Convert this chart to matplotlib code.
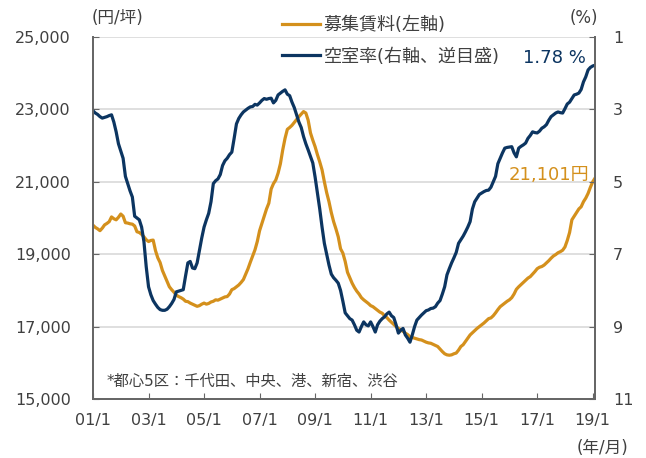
import matplotlib
matplotlib.use("Agg")
import matplotlib.pyplot as plt
import numpy as np

plt.rcParams["font.family"] = ["DejaVu Sans", "Noto Sans CJK JP"]

# 月次データ 2001/01 - 2019/02
rent = [
    19800, 19740, 19700, 19650, 19720, 19810, 19850, 19900, 20030, 19980, 19950, 20020,  # 2001
    20110, 20050, 19870, 19860, 19840, 19830, 19780, 19620, 19600, 19550, 19480, 19400,  # 2002
    19350, 19380, 19390, 19100, 18900, 18770, 18550, 18400, 18250, 18100, 18020, 17950,  # 2003
    17870, 17830, 17800, 17760, 17700, 17690, 17650, 17620, 17590, 17560, 17580, 17620,  # 2004
    17650, 17620, 17640, 17680, 17700, 17740, 17730, 17760, 17790, 17820, 17830, 17900,  # 2005
    18020, 18050, 18100, 18150, 18220, 18300, 18450, 18600, 18780, 18950, 19120, 19350,  # 2006
    19650, 19850, 20050, 20250, 20410, 20800, 20950, 21050, 21240, 21500, 21880, 22200,  # 2007
    22450, 22500, 22560, 22640, 22720, 22800, 22870, 22940, 22900, 22700, 22350, 22150,  # 2008
    21970, 21750, 21550, 21330, 21000, 20700, 20450, 20150, 19900, 19700, 19480, 19150,  # 2009
    19030, 18800, 18500, 18350, 18200, 18080, 17980, 17900, 17800, 17740, 17690, 17640,  # 2010
    17580, 17550, 17500, 17450, 17400, 17370, 17300, 17250, 17180, 17120, 17060, 17000,  # 2011
    16950, 16910, 16870, 16820, 16780, 16720, 16700, 16680, 16660, 16640, 16630, 16600,  # 2012
    16570, 16550, 16540, 16510, 16480, 16450, 16380, 16310, 16250, 16220, 16210, 16220,  # 2013
    16250, 16270, 16350, 16450, 16500, 16590, 16680, 16770, 16830, 16890, 16950, 17000,  # 2014
    17050, 17100, 17160, 17220, 17240, 17300, 17380, 17470, 17550, 17600, 17650, 17700,  # 2015
    17740, 17800, 17900, 18030, 18100, 18160, 18220, 18280, 18340, 18380, 18450, 18520,  # 2016
    18600, 18640, 18660, 18700, 18760, 18820, 18890, 18950, 18990, 19040, 19070, 19110,  # 2017
    19200, 19380, 19600, 19950, 20050, 20150, 20250, 20310, 20450, 20550, 20680, 20850,  # 2018
    21000, 21101,  # 2019
]

vacancy = [
    3.04, 3.10, 3.14, 3.20, 3.24, 3.22, 3.20, 3.17, 3.15, 3.35, 3.62, 3.95,  # 2001
    4.15, 4.35, 4.85, 5.05, 5.25, 5.42, 5.95, 6.00, 6.05, 6.25, 6.65, 7.35,  # 2002
    7.90, 8.12, 8.28, 8.38, 8.47, 8.53, 8.55, 8.55, 8.52, 8.45, 8.36, 8.25,  # 2003
    8.04, 8.02, 8.00, 7.98, 7.60, 7.24, 7.20, 7.38, 7.40, 7.24, 6.90, 6.55,  # 2004
    6.25, 6.05, 5.87, 5.55, 5.05, 4.97, 4.92, 4.80, 4.55, 4.42, 4.35, 4.25,  # 2005
    4.18, 3.80, 3.40, 3.25, 3.15, 3.07, 3.02, 2.97, 2.93, 2.92, 2.86, 2.88,  # 2006
    2.82, 2.75, 2.70, 2.72, 2.70, 2.69, 2.82, 2.75, 2.60, 2.55, 2.50, 2.46,  # 2007
    2.58, 2.62, 2.80, 2.95, 3.15, 3.35, 3.50, 3.75, 3.95, 4.12, 4.30, 4.48,  # 2008
    4.87, 5.30, 5.75, 6.25, 6.70, 7.00, 7.30, 7.55, 7.65, 7.72, 7.80, 8.00,  # 2009
    8.30, 8.62, 8.70, 8.78, 8.82, 8.95, 9.10, 9.15, 9.00, 8.87, 8.95, 8.98,  # 2010
    8.87, 9.00, 9.15, 8.95, 8.85, 8.78, 8.73, 8.65, 8.60, 8.70, 8.75, 8.95,  # 2011
    9.18, 9.10, 9.05, 9.23, 9.32, 9.43, 9.23, 9.00, 8.82, 8.75, 8.68, 8.62,  # 2012
    8.56, 8.54, 8.50, 8.49, 8.45, 8.35, 8.28, 8.10, 7.90, 7.57, 7.40, 7.24,  # 2013
    7.10, 6.95, 6.70, 6.60, 6.50, 6.38, 6.25, 6.10, 5.75, 5.55, 5.45, 5.35,  # 2014
    5.31, 5.27, 5.24, 5.23, 5.15, 5.00, 4.85, 4.50, 4.35, 4.20, 4.07, 4.05,  # 2015
    4.04, 4.03, 4.20, 4.31, 4.07, 4.02, 3.98, 3.93, 3.80, 3.72, 3.62, 3.64,  # 2016
    3.65, 3.60, 3.52, 3.48, 3.42, 3.30, 3.20, 3.15, 3.10, 3.07, 3.09, 3.10,  # 2017
    2.98, 2.85, 2.80, 2.70, 2.60, 2.58, 2.55, 2.45, 2.24, 2.10, 1.91, 1.84,  # 2018
    1.80, 1.78,  # 2019
]

xtick_labels = ["01/1", "03/1", "05/1", "07/1", "09/1", "11/1", "13/1", "15/1", "17/1", "19/1"]
left_ticks = [15000, 17000, 19000, 21000, 23000, 25000]
right_ticks = [1, 3, 5, 7, 9, 11]

gold = "#D4901C"
navy = "#0C3561"
gray = "#404040"
spine_c = "#666666"

months = np.arange(len(rent))

fig = plt.figure(figsize=(6.46, 4.58), dpi=100)
ax = fig.add_axes([0.1440, 0.1288, 0.7771, 0.7904])
ax2 = ax.twinx()

l1, = ax.plot(months, rent, color=gold, lw=2.3, solid_joinstyle="round")
l2, = ax2.plot(months, vacancy, color=navy, lw=2.3, solid_joinstyle="round")

ax.set_xlim(0, len(rent) - 1)
ax.set_ylim(15000, 25000)
ax2.set_ylim(11, 1)

ax.set_xticks(np.arange(0, 217, 24))
ax.set_xticklabels(xtick_labels)
ax.set_yticks(left_ticks)
ax.set_yticklabels([f"{v:,}" for v in left_ticks])
ax2.set_yticks(right_ticks)

ax.grid(axis="y", color="#d9d9d9", lw=1.2)
ax.set_axisbelow(True)

for a in (ax, ax2):
    a.spines["top"].set_visible(False)
    for s in ("left", "right", "bottom"):
        a.spines[s].set_color(spine_c)
        a.spines[s].set_linewidth(1.3)
ax.tick_params(axis="y", direction="in", length=4, color=spine_c, labelsize=11.5,
               labelcolor=gray, pad=16)
ax.tick_params(axis="x", direction="in", length=4, color=spine_c, labelsize=11.5,
               labelcolor=gray, pad=10)
ax2.tick_params(axis="y", direction="in", length=4, color=spine_c, labelsize=11.5,
                labelcolor=gray, pad=13)

fig.text(92 / 646, 1 - 18 / 458, "(円/坪)", fontsize=12, color=gray, va="center", ha="left")
fig.text(584 / 646, 1 - 18 / 458, "(%)", fontsize=12, color=gray, va="center", ha="center")
fig.text(602 / 646, 1 - 448 / 458, "(年/月)", fontsize=12, color=gray, va="center", ha="center")

ax.text(0.026, 0.05, "*都心5区：千代田、中央、港、新宿、渋谷", transform=ax.transAxes,
        fontsize=11, color=gray, va="center", ha="left")

ax2.text(213, 1.58, "1.78 %", color=navy, fontsize=13, ha="right", va="center")
ax.text(214.5, 21190, "21,101円", color=gold, fontsize=13, ha="right", va="center")

fig.legend([l1, l2], ["募集賃料(左軸)", "空室率(右軸、逆目盛)"],
           loc="upper left", bbox_to_anchor=(282 / 646, 1 - 16 / 458),
           frameon=False, fontsize=13, handlelength=2.1, handletextpad=0.2,
           labelspacing=0.75, borderpad=0, borderaxespad=0, labelcolor=gray)

fig.savefig("out.png", dpi=100)
